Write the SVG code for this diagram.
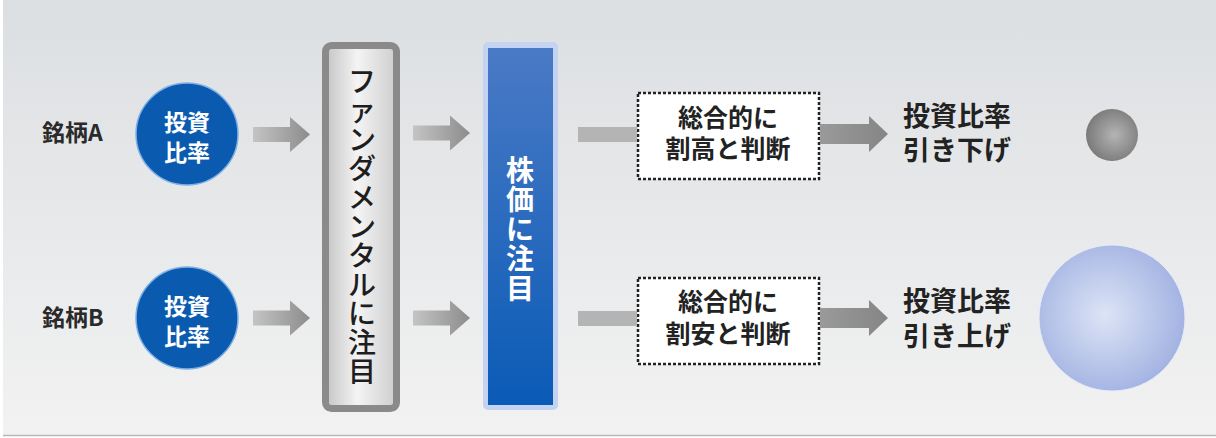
<svg xmlns="http://www.w3.org/2000/svg" width="1216" height="438" viewBox="0 0 1216 438">
<defs>
<linearGradient id="bg" x1="0" y1="0" x2="0" y2="1">
<stop offset="0" stop-color="#dcdfe2"/>
<stop offset="1" stop-color="#f2f2f2"/>
</linearGradient>
<linearGradient id="arr" x1="0" y1="0" x2="1" y2="0">
<stop offset="0" stop-color="#c4c4c4"/>
<stop offset="1" stop-color="#8c8c8c"/>
</linearGradient>
<linearGradient id="arr2" x1="0" y1="0" x2="1" y2="0">
<stop offset="0" stop-color="#9a9a9a"/>
<stop offset="1" stop-color="#858585"/>
</linearGradient>
<linearGradient id="fund" x1="0" y1="0" x2="1" y2="0">
<stop offset="0" stop-color="#c4c4c4"/>
<stop offset="0.45" stop-color="#f4f4f4"/>
<stop offset="1" stop-color="#cdcdcd"/>
</linearGradient>
<linearGradient id="blue" x1="0" y1="0" x2="0" y2="1">
<stop offset="0" stop-color="#4a7ac6"/>
<stop offset="1" stop-color="#0a5bb6"/>
</linearGradient>
<radialGradient id="sgrey" cx="0.55" cy="0.5" r="0.55">
<stop offset="0" stop-color="#b4b4b4"/>
<stop offset="1" stop-color="#7a7a7a"/>
</radialGradient>
<radialGradient id="sblue" cx="0.45" cy="0.48" r="0.55">
<stop offset="0" stop-color="#dde4f6"/>
<stop offset="1" stop-color="#a3b3e2"/>
</radialGradient>
<path id="arrowHead" d="M0,-7.5 H37 V-17.5 L57,0 L37,17.5 V7.5 H0 Z"/>
</defs>
<style>
text{font-family:"Noto Sans CJK JP","Noto Sans",sans-serif;font-weight:bold}
.lbl{font-size:23px;fill:#2a2a2a}
.ct{font-size:23px;fill:#ffffff;text-anchor:middle}
.vt{font-size:28px;fill:#1e1e1e;text-anchor:middle;font-weight:500}
.vw{font-size:28px;fill:#ffffff;text-anchor:middle}
.bx{font-size:25px;fill:#222;text-anchor:middle}
.rt{font-size:27px;fill:#222}
.dash{fill:#ffffff;stroke:#222;stroke-width:2.5;stroke-dasharray:3 2}
</style>
<rect x="0" y="0" width="1216" height="438" fill="#ffffff"/>
<rect x="3" y="0" width="1213" height="435" fill="url(#bg)"/>
<line x1="3" y1="435.5" x2="1216" y2="435.5" stroke="#b8b8b8" stroke-width="1.5"/>

<g id="label-a"><text class="lbl" x="42" y="141">銘柄A</text></g>
<g id="label-b"><text class="lbl" x="42" y="326">銘柄B</text></g>

<g id="circle-a">
<circle cx="187" cy="134" r="51" fill="#0a5bb0" stroke="#7fb0e6" stroke-width="1.5"/>
<text class="ct" x="187" y="131">投資</text>
<text class="ct" x="187" y="161">比率</text>
</g>
<g id="circle-b">
<circle cx="187" cy="318" r="51" fill="#0a5bb0" stroke="#7fb0e6" stroke-width="1.5"/>
<text class="ct" x="187" y="315">投資</text>
<text class="ct" x="187" y="345">比率</text>
</g>

<g id="fundamental">
<rect x="325.5" y="45.5" width="71" height="363" rx="6" fill="url(#fund)" stroke="#8a8a8a" stroke-width="7"/>
<text class="vt"><tspan x="362" y="92">フ</tspan><tspan x="362" y="121">ァ</tspan><tspan x="362" y="150">ン</tspan><tspan x="362" y="179">ダ</tspan><tspan x="362" y="208">メ</tspan><tspan x="362" y="237">ン</tspan><tspan x="362" y="266">タ</tspan><tspan x="362" y="295">ル</tspan><tspan x="362" y="324">に</tspan><tspan x="362" y="353">注</tspan><tspan x="362" y="382">目</tspan></text>
</g>

<g id="price">
<rect x="483" y="42" width="75" height="368" rx="5" fill="#c5d3f2"/>
<rect x="488" y="48" width="65" height="357" fill="url(#blue)"/>
<text class="vw"><tspan x="520" y="181">株</tspan><tspan x="520" y="210">価</tspan><tspan x="520" y="240">に</tspan><tspan x="520" y="269">注</tspan><tspan x="520" y="299">目</tspan></text>
</g>

<g id="judge-a">
<rect class="dash" x="638" y="93" width="181" height="86"/>
<text class="bx" x="728" y="127">総合的に</text>
<text class="bx" x="728" y="158">割高と判断</text>
</g>
<g id="judge-b">
<rect class="dash" x="638" y="278" width="181" height="86"/>
<text class="bx" x="728" y="311">総合的に</text>
<text class="bx" x="728" y="343">割安と判断</text>
</g>

<g id="result-a">
<text class="rt" x="903" y="126">投資比率</text>
<text class="rt" x="903" y="160">引き下げ</text>
</g>
<g id="result-b">
<text class="rt" x="903" y="311">投資比率</text>
<text class="rt" x="903" y="346">引き上げ</text>
</g>

<g id="sphere-a"><circle cx="1112" cy="135" r="26" fill="url(#sgrey)"/></g>
<g id="sphere-b"><circle cx="1112" cy="318" r="73" fill="url(#sblue)" stroke="#e6ecfa" stroke-width="1"/></g>

<g id="connectors">
<use href="#arrowHead" transform="translate(253,134.5)" fill="url(#arr)"/>
<use href="#arrowHead" transform="translate(253,318)" fill="url(#arr)"/>
<use href="#arrowHead" transform="translate(413,133)" fill="url(#arr)"/>
<use href="#arrowHead" transform="translate(413,318)" fill="url(#arr)"/>
<rect x="578" y="127" width="59" height="15" fill="#b4b4b4"/>
<rect x="578" y="311" width="59" height="15" fill="#b4b4b4"/>
<path d="M820,124 H869 V116 L888,134 L869,152 V144 H820 Z" fill="url(#arr2)"/>
<path d="M820,308 H869 V300 L888,318 L869,336 V328 H820 Z" fill="url(#arr2)"/>
</g>
</svg>
